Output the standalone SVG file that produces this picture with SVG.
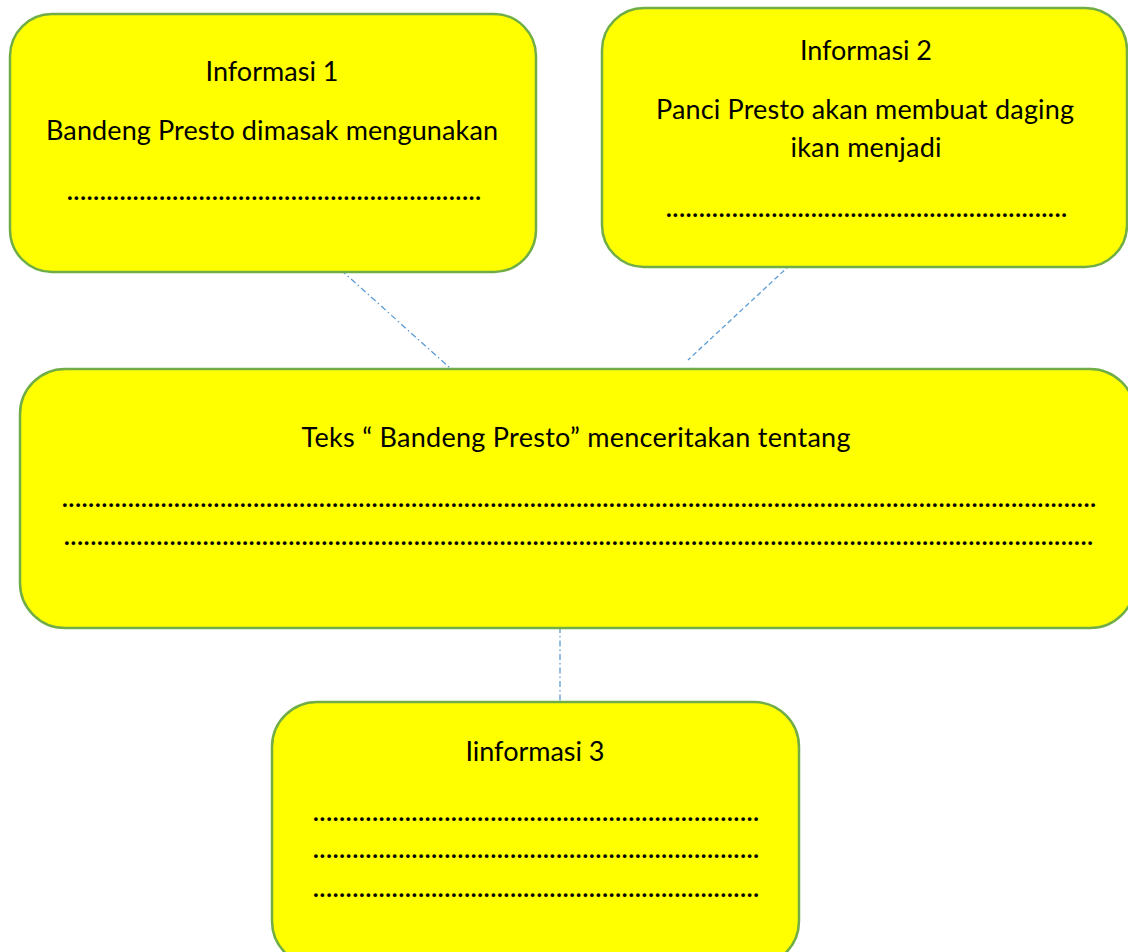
<svg xmlns="http://www.w3.org/2000/svg" width="1128" height="952" viewBox="0 0 1128 952">
<style>
.box{fill:#FFFF00;stroke:#70AD47;stroke-width:2.5}
.t{font-family:Lato,"Noto Sans","Liberation Sans",sans-serif;font-size:27px;fill:#000;text-anchor:middle}
.d{font-family:Lato,"Noto Sans","Liberation Sans",sans-serif;font-size:24px;font-weight:bold;fill:#000}
.c{fill:none;stroke:#5B9BD5;stroke-width:1.3}
</style>
<rect width="1128" height="952" fill="#fff"/>
<g id="connectors">
<line class="c" x1="341" y1="270" x2="450" y2="368" stroke-dasharray="6,3,1.5,3"/>
<line class="c" x1="790" y1="265" x2="688" y2="360" stroke-dasharray="5,3"/>
<line class="c" x1="560" y1="627" x2="560" y2="702" stroke-dasharray="6,3,1.5,3"/>
</g>
<g id="node-informasi1">
<rect class="box" x="10" y="14" width="526" height="258" rx="42"/>
<text class="t" x="272" y="81" textLength="133">Informasi 1</text>
<text class="t" x="272" y="140" textLength="452">Bandeng Presto dimasak mengunakan</text>
<text class="d" x="67" y="200" textLength="414">...............................................................</text>
</g>
<g id="node-informasi2">
<rect class="box" x="602" y="8" width="525" height="259" rx="42"/>
<text class="t" x="866" y="60" textLength="132">Informasi 2</text>
<text class="t" x="865" y="119" textLength="418">Panci Presto akan membuat daging</text>
<text class="t" x="866" y="157" textLength="151">ikan menjadi</text>
<text class="d" x="666" y="217" textLength="401">.............................................................</text>
</g>
<g id="node-teks">
<rect class="box" x="20" y="369" width="1115" height="259" rx="45"/>
<text class="t" x="576" y="447" textLength="549">Teks “ Bandeng Presto” menceritakan tentang</text>
<text class="d" x="62" y="507" textLength="1034">.............................................................................................................................................................</text>
<text class="d" x="64" y="545" textLength="1029">............................................................................................................................................................</text>
</g>
<g id="node-informasi3">
<rect class="box" x="272" y="702" width="527" height="264" rx="45"/>
<text class="t" x="535" y="761" textLength="139">Iinformasi 3</text>
<text class="d" x="313" y="821" textLength="446">....................................................................</text>
<text class="d" x="313" y="858" textLength="446">....................................................................</text>
<text class="d" x="313" y="897" textLength="446">....................................................................</text>
</g>
</svg>
